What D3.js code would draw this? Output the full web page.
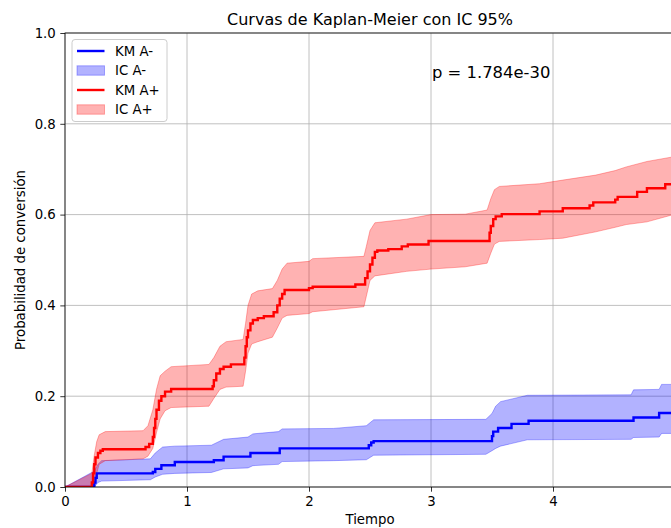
<!DOCTYPE html>
<html>
<head>
<meta charset="utf-8">
<script src="https://cdn.jsdelivr.net/npm/d3@7"></script>
<style>
  html, body { margin: 0; padding: 0; background: #fff; }
  svg { display: block; font-family: "DejaVu Sans", sans-serif; }
</style>
</head>
<body>
<svg id="chart" width="671" height="528"></svg>
<script>
// Kaplan-Meier estimates (step-post) for the two groups
const kmNegTime = [0, 0.24, 0.25, 0.26, 0.72, 0.74, 0.79, 0.90, 1.22, 1.30, 1.52, 1.76, 2.49, 2.51, 2.53, 3.50, 3.51, 3.55, 3.66, 3.80, 4.66, 4.87, 5.0];
const kmNegProb = [0, 0.010, 0.020, 0.030, 0.033, 0.040, 0.048, 0.055, 0.059, 0.067, 0.075, 0.085, 0.092, 0.098, 0.101, 0.112, 0.122, 0.130, 0.139, 0.146, 0.153, 0.163, 0.163];

const kmPosTime = [0, 0.22, 0.23, 0.24, 0.25, 0.27, 0.29, 0.31, 0.66, 0.69, 0.72, 0.73, 0.74, 0.75, 0.77, 0.79, 0.82, 0.87, 1.21, 1.22, 1.24, 1.27, 1.30, 1.36, 1.47, 1.48, 1.49, 1.50, 1.52, 1.54, 1.58, 1.63, 1.71, 1.74, 1.76, 1.78, 1.80, 2.00, 2.03, 2.38, 2.46, 2.48, 2.50, 2.52, 2.54, 2.56, 2.65, 2.76, 2.81, 2.98, 3.48, 3.49, 3.51, 3.53, 3.58, 3.89, 4.08, 4.30, 4.33, 4.51, 4.53, 4.69, 4.77, 4.92, 5.0];
const kmPosProb = [0, 0.010, 0.030, 0.050, 0.065, 0.075, 0.080, 0.083, 0.088, 0.095, 0.110, 0.130, 0.150, 0.170, 0.190, 0.200, 0.210, 0.216, 0.222, 0.235, 0.250, 0.260, 0.265, 0.270, 0.285, 0.310, 0.330, 0.345, 0.360, 0.368, 0.372, 0.376, 0.385, 0.400, 0.415, 0.425, 0.434, 0.438, 0.441, 0.446, 0.460, 0.475, 0.490, 0.505, 0.518, 0.521, 0.524, 0.530, 0.534, 0.542, 0.560, 0.575, 0.590, 0.596, 0.601, 0.607, 0.614, 0.620, 0.627, 0.633, 0.639, 0.650, 0.658, 0.667, 0.667];

// 95% confidence bands
const ciNegTime  = [0, 0.24, 0.27, 0.30, 0.70, 0.74, 0.80, 0.90, 1.20, 1.30, 1.50, 1.54, 1.75, 1.78, 2.20, 2.47, 2.53, 3.45, 3.50, 3.53, 3.57, 3.79, 4.64, 4.66, 4.87, 4.89, 5.0];
const ciNegUpper = [0, 0.035, 0.050, 0.058, 0.062, 0.075, 0.088, 0.090, 0.092, 0.105, 0.110, 0.117, 0.122, 0.128, 0.129, 0.135, 0.148, 0.149, 0.162, 0.178, 0.188, 0.202, 0.203, 0.214, 0.215, 0.226, 0.226];
const ciNegLower = [0, 0.000, 0.010, 0.013, 0.016, 0.022, 0.028, 0.030, 0.032, 0.040, 0.042, 0.047, 0.050, 0.056, 0.058, 0.060, 0.070, 0.072, 0.080, 0.085, 0.090, 0.104, 0.105, 0.109, 0.110, 0.118, 0.118];

const ciPosTime  = [0, 0.22, 0.24, 0.26, 0.28, 0.33, 0.64, 0.68, 0.72, 0.75, 0.78, 0.82, 0.87, 1.18, 1.22, 1.27, 1.32, 1.46, 1.48, 1.50, 1.53, 1.58, 1.70, 1.74, 1.78, 1.82, 2.00, 2.03, 2.45, 2.47, 2.50, 2.54, 2.80, 3.00, 3.28, 3.46, 3.49, 3.52, 3.56, 3.89, 4.08, 4.35, 4.51, 4.60, 4.77, 5.0];
const ciPosUpper = [0, 0.030, 0.070, 0.100, 0.115, 0.122, 0.124, 0.135, 0.170, 0.215, 0.245, 0.255, 0.265, 0.270, 0.285, 0.310, 0.320, 0.325, 0.360, 0.400, 0.425, 0.432, 0.437, 0.455, 0.480, 0.493, 0.497, 0.503, 0.508, 0.530, 0.565, 0.582, 0.590, 0.600, 0.601, 0.610, 0.635, 0.655, 0.662, 0.668, 0.676, 0.687, 0.697, 0.705, 0.717, 0.728];
const ciPosLower = [0, 0.000, 0.000, 0.030, 0.050, 0.058, 0.062, 0.068, 0.085, 0.120, 0.150, 0.168, 0.175, 0.178, 0.195, 0.215, 0.220, 0.222, 0.255, 0.295, 0.315, 0.320, 0.330, 0.350, 0.372, 0.378, 0.382, 0.386, 0.397, 0.420, 0.455, 0.465, 0.475, 0.480, 0.485, 0.493, 0.515, 0.535, 0.541, 0.545, 0.548, 0.562, 0.572, 0.578, 0.584, 0.601];

const xTicks = [0, 1, 2, 3, 4];
const yTicks = [0.0, 0.2, 0.4, 0.6, 0.8, 1.0];
const pValueText = "p = 1.784e-30";

const svg = d3.select("#chart");
const margin = { left: 65, top: 33, right: 675, bottom: 487 };

const x = d3.scaleLinear().domain([0, 5.0]).range([margin.left, margin.right]);
const y = d3.scaleLinear().domain([0, 1]).range([margin.bottom, margin.top]);

svg.append("defs").append("clipPath").attr("id", "plot-clip")
  .append("rect")
  .attr("x", margin.left).attr("y", margin.top)
  .attr("width", margin.right - margin.left).attr("height", margin.bottom - margin.top);

// grid
const grid = svg.append("g");
grid.selectAll("line.gx").data(xTicks).join("line")
  .attr("x1", d => x(d)).attr("x2", d => x(d))
  .attr("y1", margin.top).attr("y2", margin.bottom)
  .attr("stroke", "#b0b0b0").attr("stroke-width", 0.8);
grid.selectAll("line.gy").data(yTicks).join("line")
  .attr("x1", margin.left).attr("x2", margin.right)
  .attr("y1", d => y(d)).attr("y2", d => y(d))
  .attr("stroke", "#b0b0b0").attr("stroke-width", 0.8);

const plot = svg.append("g").attr("clip-path", "url(#plot-clip)");

function band(times, lower, upper) {
  return times.map((t, i) => ({ t, lo: lower[i], hi: upper[i] }));
}
const area = d3.area().x(d => x(d.t)).y0(d => y(d.lo)).y1(d => y(d.hi)).curve(d3.curveLinear);
const stepLine = d3.line().x(d => x(d.t)).y(d => y(d.p)).curve(d3.curveStepAfter);

const series = [
  { color: "#0000ff", km: kmNegTime.map((t, i) => ({ t, p: kmNegProb[i] })), ci: band(ciNegTime, ciNegLower, ciNegUpper) },
  { color: "#ff0000", km: kmPosTime.map((t, i) => ({ t, p: kmPosProb[i] })), ci: band(ciPosTime, ciPosLower, ciPosUpper) }
];

series.forEach(s => {
  plot.append("path").datum(s.ci).attr("d", area)
    .attr("fill", s.color).attr("fill-opacity", 0.3)
    .attr("stroke", s.color).attr("stroke-opacity", 0.3).attr("stroke-width", 1);
});
series.forEach(s => {
  plot.append("path").datum(s.km).attr("d", stepLine)
    .attr("fill", "none").attr("stroke", s.color).attr("stroke-width", 2.4);
});

// axes
const xAxis = svg.append("g").attr("transform", `translate(0,${margin.bottom})`)
  .call(d3.axisBottom(x).tickValues(xTicks).tickFormat(d3.format("d")).tickSizeOuter(0).tickSize(4.7).tickPadding(4.5));
const yAxis = svg.append("g").attr("transform", `translate(${margin.left},0)`)
  .call(d3.axisLeft(y).tickValues(yTicks).tickFormat(d3.format(".1f")).tickSizeOuter(0).tickSize(4.7).tickPadding(4.5));
[xAxis, yAxis].forEach(a => {
  a.select(".domain").remove();
  a.selectAll("line").attr("stroke", "#000").attr("stroke-width", 0.8);
  a.selectAll("text").attr("font-family", "DejaVu Sans").attr("font-size", 13.3).attr("fill", "#000");
});

// spines
svg.append("rect")
  .attr("x", margin.left).attr("y", margin.top)
  .attr("width", margin.right - margin.left).attr("height", margin.bottom - margin.top)
  .attr("fill", "none").attr("stroke", "#000").attr("stroke-width", 0.8);

// titles
svg.append("text").attr("x", (margin.left + margin.right) / 2).attr("y", 25)
  .attr("text-anchor", "middle").attr("font-size", 16).attr("fill", "#000")
  .text("Curvas de Kaplan-Meier con IC 95%");
svg.append("text").attr("x", (margin.left + margin.right) / 2).attr("y", 524)
  .attr("text-anchor", "middle").attr("font-size", 13.3).attr("fill", "#000")
  .text("Tiempo");
svg.append("text")
  .attr("transform", `translate(25,${(margin.top + margin.bottom) / 2}) rotate(-90)`)
  .attr("text-anchor", "middle").attr("font-size", 13.3).attr("fill", "#000")
  .text("Probabilidad de conversión");

// p-value annotation
svg.append("text").attr("x", x(3) + 1).attr("y", y(0.9))
  .attr("font-size", 16.4).attr("fill", "#000").text(pValueText);

// legend
const legendItems = [
  { label: "KM A-", color: "#0000ff", kind: "line" },
  { label: "IC A-", color: "#0000ff", kind: "patch" },
  { label: "KM A+", color: "#ff0000", kind: "line" },
  { label: "IC A+", color: "#ff0000", kind: "patch" }
];
const lg = svg.append("g");
lg.append("rect").attr("x", 72).attr("y", 39.5).attr("width", 95).attr("height", 82)
  .attr("rx", 3).attr("fill", "#fff").attr("fill-opacity", 0.8)
  .attr("stroke", "#cccccc").attr("stroke-width", 1);
legendItems.forEach((d, i) => {
  const cy = 51 + i * 19.5;
  if (d.kind === "line") {
    lg.append("line").attr("x1", 77).attr("x2", 104.5).attr("y1", cy).attr("y2", cy)
      .attr("stroke", d.color).attr("stroke-width", 2.4);
  } else {
    lg.append("rect").attr("x", 77).attr("y", cy - 4.7).attr("width", 27.5).attr("height", 9.4)
      .attr("fill", d.color).attr("fill-opacity", 0.3)
      .attr("stroke", d.color).attr("stroke-opacity", 0.3).attr("stroke-width", 1);
  }
  lg.append("text").attr("x", 115).attr("y", cy + 4.8)
    .attr("font-size", 13.3).attr("fill", "#000").text(d.label);
});
</script>
</body>
</html>
